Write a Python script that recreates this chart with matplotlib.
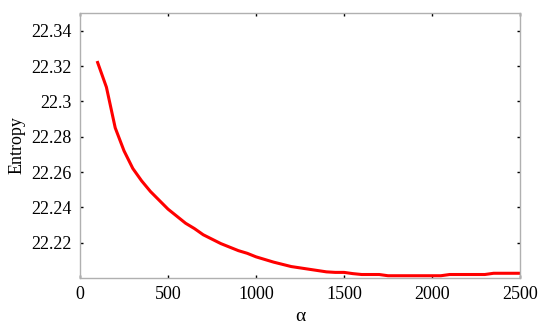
import numpy as np
import matplotlib.pyplot as plt

# alpha values and entropy
alpha = [100, 150, 200, 250, 300, 350, 400, 450, 500, 550, 600, 650, 700,
         750, 800, 850, 900, 950, 1000, 1100, 1200, 1300, 1400, 1450, 1500,
         1550, 1600, 1700, 1750, 1800, 1900, 2000, 2050, 2100, 2200, 2300,
         2350, 2400, 2500]
entropy = [22.322, 22.308, 22.285, 22.272, 22.262, 22.255, 22.249, 22.244,
           22.239, 22.235, 22.231, 22.228, 22.2245, 22.222, 22.2195, 22.2175,
           22.2155, 22.214, 22.212, 22.209, 22.2065, 22.205, 22.2035, 22.2032,
           22.2032, 22.2025, 22.202, 22.202, 22.2013, 22.2013, 22.2013,
           22.2013, 22.2013, 22.202, 22.202, 22.202, 22.2027, 22.2027, 22.2027]

xticks = [0, 500, 1000, 1500, 2000, 2500]
yticks = [22.22, 22.24, 22.26, 22.28, 22.3, 22.32, 22.34]
ytick_labels = ['22.22', '22.24', '22.26', '22.28', '22.3', '22.32', '22.34']

plt.rcParams['font.family'] = ['Liberation Serif', 'DejaVu Serif']

fig = plt.figure(figsize=(5.5, 3.31), dpi=100)
ax = fig.add_axes([0.1455, 0.160, 0.80, 0.8007])

ax.plot(alpha, entropy, color='#ff0000', linewidth=2.2)

ax.set_xlim(0, 2500)
ax.set_ylim(22.2, 22.35)
ax.set_xticks(xticks)
ax.set_yticks(yticks)
ax.set_yticklabels(ytick_labels)

for s in ax.spines.values():
    s.set_color('#b0b0b0')
    s.set_linewidth(1.0)
ax.tick_params(direction='in', length=2.5, width=1, color='black',
               top=True, right=True, labelsize=13, pad=6)

ax.set_xlabel('α', fontsize=14, labelpad=3)
ax.set_ylabel('Entropy', fontsize=13, labelpad=4)

fig.savefig('out.png', dpi=100)
